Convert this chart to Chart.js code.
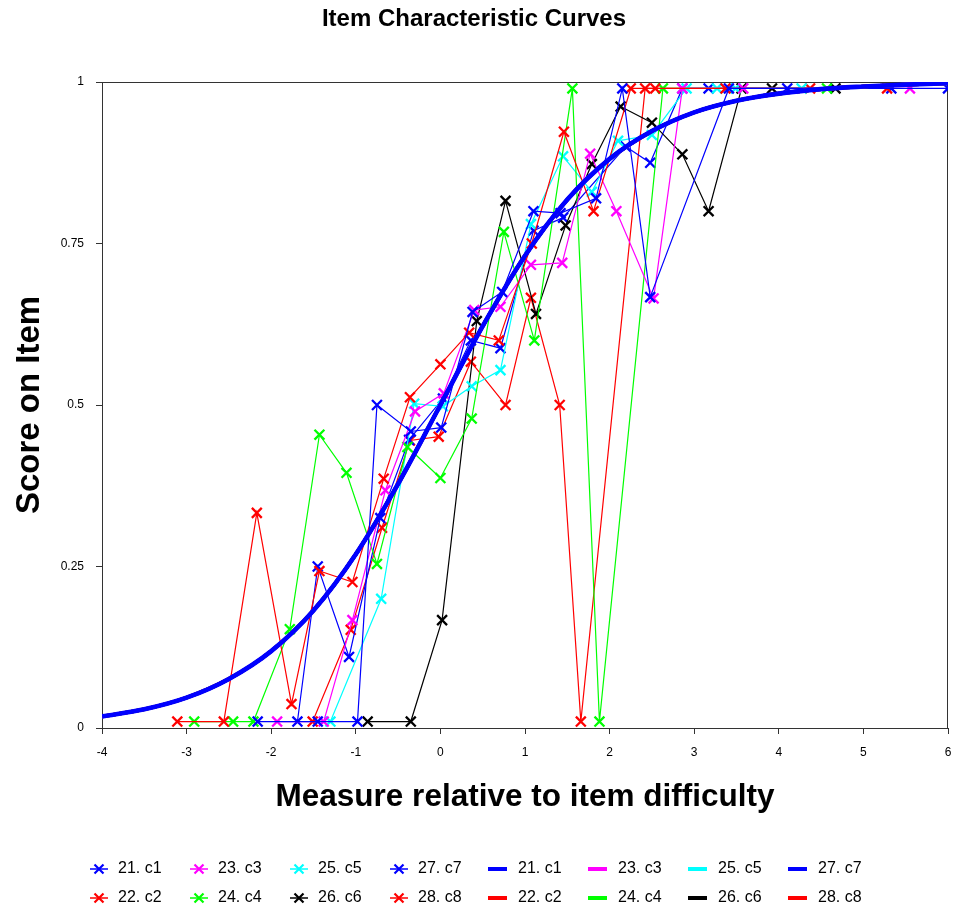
<!DOCTYPE html>
<html>
<head>
<meta charset="utf-8">
<script src="https://cdn.jsdelivr.net/npm/chart.js@4/dist/chart.umd.min.js"></script>
<style>
html,body{margin:0;padding:0;background:#ffffff;}
#wrap{width:955px;height:914px;position:relative;}
</style>
</head>
<body>
<div id="wrap"><canvas id="c" width="955" height="914"></canvas></div>
<script>
const FONT = '"Liberation Sans", Arial, Helvetica, sans-serif';

const chartTitle = 'Item Characteristic Curves';
const xTitle = 'Measure relative to item difficulty';
const yTitle = 'Score on Item';

const seriesNames = ['21. c1','22. c2','23. c3','24. c4','25. c5','26. c6','27. c7','28. c8'];
const seriesColors = ['#0000FF','#FF0000','#FF00FF','#00FF00','#00FFFF','#000000','#0000FF','#FF0000'];

const c1X = [-2.16,-1.45,-0.98,-0.75,-0.35,0.01,0.38,0.73,1.10,1.42,1.84,2.15,2.48,3.41,4.10,6.00];
const c1Y = [0.01,0.01,0.01,0.50,0.459,0.465,0.644,0.675,0.80,0.797,0.82,0.99,0.667,0.99,0.99,0.99];

const c2X = [-3.11,-2.56,-2.17,-1.76,-1.43,-1.04,-0.67,-0.36,0.00,0.34,0.69,1.08,1.46,1.81,2.25,2.54,3.37,5.28];
const c2Y = [0.01,0.01,0.333,0.037,0.243,0.226,0.386,0.512,0.563,0.612,0.60,0.75,0.923,0.80,0.99,0.99,0.99,0.99];

const c3X = [-1.93,-1.38,-1.04,-0.65,-0.30,0.04,0.40,0.71,1.07,1.44,1.77,2.08,2.52,2.86,3.58,5.55];
const c3Y = [0.01,0.01,0.167,0.368,0.49,0.518,0.647,0.652,0.717,0.72,0.889,0.80,0.665,0.99,0.99,0.99];

const c4X = [-2.91,-2.45,-2.21,-1.78,-1.43,-1.11,-0.75,-0.39,0.00,0.37,0.75,1.11,1.56,1.88,2.63,4.57];
const c4Y = [0.01,0.01,0.01,0.153,0.454,0.395,0.254,0.435,0.387,0.479,0.768,0.60,0.99,0.01,0.99,0.99];

const c5X = [-1.30,-0.70,-0.31,0.03,0.37,0.71,1.07,1.45,1.79,2.10,2.50,2.91,3.27,3.49,4.27];
const c5Y = [0.01,0.20,0.502,0.498,0.529,0.554,0.78,0.885,0.83,0.909,0.918,0.99,0.99,0.99,0.99];

const c6X = [-0.86,-0.35,0.02,0.43,0.77,1.13,1.48,1.79,2.13,2.50,2.86,3.17,3.56,3.92,4.67];
const c6Y = [0.01,0.01,0.167,0.63,0.816,0.641,0.778,0.873,0.962,0.937,0.888,0.80,0.99,0.99,0.99];

const c7X = [-1.69,-1.45,-1.08,-0.71,-0.37,0.03,0.36,0.71,1.10,1.45,2.19,2.48,2.86,3.17,5.33];
const c7Y = [0.01,0.25,0.11,0.325,0.446,0.51,0.60,0.588,0.77,0.79,0.90,0.875,0.99,0.99,0.99];

const c8X = [-1.51,-1.06,-0.69,-0.36,-0.02,0.36,0.77,1.07,1.41,1.66,2.42,4.37];
const c8Y = [0.01,0.152,0.31,0.445,0.451,0.567,0.50,0.666,0.50,0.01,0.99,0.99];

// model curve (same for every item), read at half-unit steps
const modelX = [-4,-3.5,-3,-2.5,-2,-1.5,-1,-0.5,0,0.5,1,1.5,2,2.5,3,3.5,4,4.5,5,5.5,6];
const modelY = [0.018,0.029,0.047,0.076,0.119,0.182,0.269,0.378,0.50,0.622,0.731,0.818,0.881,0.924,0.953,0.971,0.982,0.989,0.993,0.996,0.998];

const xTicks = [-4,-3,-2,-1,0,1,2,3,4,5,6];
const yTicks = [0,0.25,0.5,0.75,1];
const yTickLabels = ['0','0.25','0.5','0.75','1'];

const empX = [c1X,c2X,c3X,c4X,c5X,c6X,c7X,c8X];
const empY = [c1Y,c2Y,c3Y,c4Y,c5Y,c6Y,c7Y,c8Y];

function pts(xs, ys){ return xs.map((x,i)=>({x:x, y:ys[i]})); }

const datasets = [];
// model curves; 21. c1 drawn on top
seriesNames.forEach((n,i)=>{
  datasets.push({
    label: n + ' model',
    data: pts(modelX, modelY),
    showLine: true,
    borderColor: seriesColors[i],
    backgroundColor: seriesColors[i],
    borderWidth: i === 0 ? 4.6 : 3.6,
    pointRadius: 0,
    pointHoverRadius: 0,
    cubicInterpolationMode: 'monotone',
    order: i === 0 ? 0 : i + 1
  });
});
seriesNames.forEach((n,i)=>{
  datasets.push({
    label: n,
    data: pts(empX[i], empY[i]),
    showLine: true,
    borderColor: seriesColors[i],
    backgroundColor: seriesColors[i],
    borderWidth: 1.2,
    pointStyle: 'crossRot',
    pointRadius: 7,
    pointBorderWidth: 2.3,
    pointBorderColor: seriesColors[i],
    tension: 0,
    order: 20 + i
  });
});

const framePlugin = {
  id: 'frame',
  beforeDatasetsDraw(chart){
    const a = chart.chartArea, ctx = chart.ctx;
    ctx.save();
    ctx.strokeStyle = '#333333';
    ctx.lineWidth = 1;
    ctx.strokeRect(Math.round(a.left)+0.5, Math.round(a.top)+0.5, Math.round(a.right-a.left)-1, Math.round(a.bottom-a.top));
    ctx.restore();
  }
};

// legend layout: row 1 = items 21,23,25,27 ; row 2 = 22,24,26,28
const legendRows = [[0,2,4,6],[1,3,5,7]];
const legendPlugin = {
  id: 'customLegend',
  afterDraw(chart){
    const ctx = chart.ctx;
    ctx.save();
    ctx.font = '16px ' + FONT;
    ctx.textBaseline = 'middle';
    ctx.textAlign = 'left';
    const rowY = [869, 898];
    legendRows.forEach((row, r)=>{
      const y = rowY[r];
      row.forEach((si, k)=>{
        const col = seriesColors[si];
        // marker entry
        const cx = 99 + 100*k;
        ctx.strokeStyle = col; ctx.lineWidth = 1.5;
        ctx.beginPath(); ctx.moveTo(cx-9, y); ctx.lineTo(cx+9, y); ctx.stroke();
        ctx.lineWidth = 2.2;
        ctx.beginPath();
        ctx.moveTo(cx-4.5, y-4.5); ctx.lineTo(cx+4.5, y+4.5);
        ctx.moveTo(cx-4.5, y+4.5); ctx.lineTo(cx+4.5, y-4.5);
        ctx.stroke();
        ctx.fillStyle = '#000';
        ctx.fillText(seriesNames[si], cx + 19, y);
        // line entry
        const lx = 488 + 100*k;
        ctx.fillStyle = col;
        ctx.fillRect(lx, y-2, 19, 4);
        ctx.fillStyle = '#000';
        ctx.fillText(seriesNames[si], lx + 30, y);
      });
    });
    ctx.restore();
  }
};

new Chart(document.getElementById('c'), {
  type: 'scatter',
  data: { datasets: datasets },
  plugins: [framePlugin, legendPlugin],
  options: {
    responsive: false,
    animation: false,
    devicePixelRatio: 1,
    layout: { autoPadding: false, padding: { left: 0, right: 7, top: 0, bottom: 98 } },
    plugins: {
      legend: { display: false },
      tooltip: { enabled: false },
      title: {
        display: true,
        text: chartTitle,
        color: '#000',
        font: { family: FONT, size: 24, weight: 'bold' },
        padding: { top: 5, bottom: 48.2 }
      }
    },
    scales: {
      x: {
        type: 'linear',
        min: -4, max: 6,
        afterBuildTicks: (s)=>{ s.ticks = xTicks.map(v=>({value:v})); },
        afterFit: (s)=>{ s.height = 88; s.paddingRight = 0; s.paddingLeft = 0; },
        ticks: { color: '#000', font: { family: FONT, size: 12 }, padding: 11, callback: (v)=>String(v) },
        grid: { drawOnChartArea: false, drawTicks: true, tickLength: 6, color: '#333333' },
        border: { display: true, color: '#333333', width: 1 },
        title: { display: true, text: xTitle, color: '#000', font: { family: FONT, size: 31.5, weight: 'bold' }, padding: { top: 0, bottom: 0 } }
      },
      y: {
        type: 'linear',
        min: 0, max: 1,
        afterBuildTicks: (s)=>{ s.ticks = yTicks.map(v=>({value:v})); },
        afterFit: (s)=>{ s.width = 102; },
        ticks: { color: '#000', font: { family: FONT, size: 12 }, padding: 12,
                 callback: (v)=>{ const i = yTicks.indexOf(v); return i >= 0 ? yTickLabels[i] : ''; } },
        grid: { drawOnChartArea: false, drawTicks: true, tickLength: 6, color: '#333333' },
        border: { display: true, color: '#333333', width: 1 },
        title: { display: true, text: yTitle, color: '#000', font: { family: FONT, size: 33, weight: 'bold' }, padding: { top: 10, bottom: 0 } }
      }
    }
  }
});
</script>
</body>
</html>
